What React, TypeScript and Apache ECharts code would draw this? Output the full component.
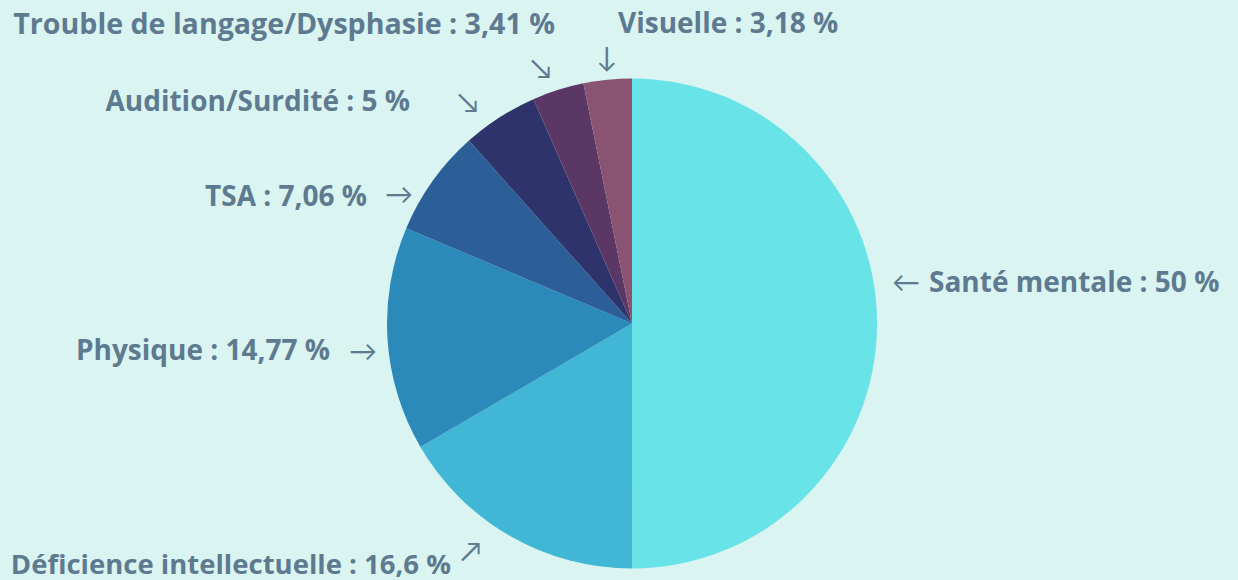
import React, { useEffect, useRef } from "react";
import * as echarts from "echarts";

const categories = [
  "Santé mentale",
  "Déficience intellectuelle",
  "Physique",
  "TSA",
  "Audition/Surdité",
  "Trouble de langage/Dysphasie",
  "Visuelle",
];
const values = [50, 16.6, 14.77, 7.06, 5, 3.41, 3.18];
const valueLabels = ["50", "16,6", "14,77", "7,06", "5", "3,41", "3,18"];
const colors = ["#68E3E7", "#42B7D5", "#2B8AB9", "#2C5F97", "#2F336B", "#5B3765", "#8A5371"];

const TEXT = "#5E7A90";
const FONT = "'Open Sans'";
const ARROW_FONT = "Lato";

export default function App() {
  const ref = useRef<HTMLDivElement>(null);
  useEffect(() => {
    document.body.style.margin = "0";
    const chart = echarts.init(ref.current!, null, { renderer: "svg" });
    const lbl = (i: number) => `${categories[i]} : ${valueLabels[i]} %`;
    const t = (text: string, x: number, y: number, align: string, size = 28) => ({
      type: "text",
      x,
      y,
      style: {
        text,
        fill: TEXT,
        font: `bold ${size}px ${FONT}`,
        textAlign: align,
        textVerticalAlign: "middle",
      },
    });
    const a = (text: string, x: number, y: number) => ({
      type: "text",
      x,
      y,
      style: {
        text,
        fill: TEXT,
        font: `normal 28px ${ARROW_FONT}`,
        textAlign: "center",
        textVerticalAlign: "middle",
      },
    });
    chart.setOption({
      animation: false,
      backgroundColor: "#DAF4F1",
      series: [
        {
          type: "pie",
          center: [632, 323.5],
          radius: 245,
          startAngle: 90,
          clockwise: true,
          label: { show: false },
          labelLine: { show: false },
          itemStyle: { borderWidth: 0 },
          data: categories.map((c, i) => ({ name: c, value: values[i], itemStyle: { color: colors[i] } })),
        },
      ],
      graphic: [
        t(lbl(5), 555, 22, "right", 28.6),
        t(lbl(6), 618, 22, "left"),
        a("↘", 541, 67),
        a("↓", 607, 56),
        t(lbl(4), 410, 100, "right"),
        a("↘", 468, 101),
        t(lbl(3), 367, 195, "right"),
        a("→", 399, 193),
        t(lbl(2), 330, 349, "right"),
        a("→", 363, 350),
        a("←", 906, 281),
        t(lbl(0), 929, 281, "left"),
        t(lbl(1), 451, 563, "right", 27.5),
        a("↗", 471, 550),
      ],
    });
    return () => chart.dispose();
  }, []);
  return <div ref={ref} style={{ width: 1238, height: 580 }} />;
}
